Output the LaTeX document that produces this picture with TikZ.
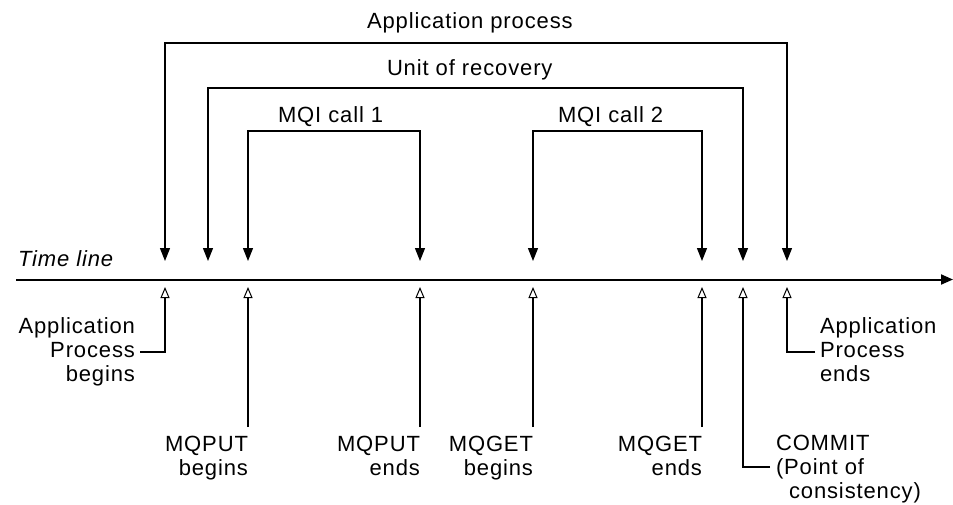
\documentclass[tikz,border=0pt]{standalone}
\usepackage{fontspec}
\setmainfont{Liberation Sans}[LetterSpace=4]
\usetikzlibrary{arrows.meta}
\begin{document}
\begin{tikzpicture}[x=1pt,y=-1pt,
  lbl/.style={font=\fontsize{22}{24}\selectfont, inner sep=0pt, outer sep=0pt},
  wire/.style={line width=1.2pt},
  callarr/.style={wire, {Triangle[width=10pt,length=13pt]}-{Triangle[width=10pt,length=13pt]}},
  markarr/.style={wire, -{Triangle[open,width=9pt,length=11pt,line width=1pt]}},
  timeaxis/.style={line width=2pt, -{Triangle[width=10pt,length=12pt]}}
]
\useasboundingbox (0,0) rectangle (953,504);

% time axis
\coordinate (tl0) at (16,279.5);
\coordinate (tl1) at (953,279.5);
\draw[timeaxis] (tl0) -- (tl1);
\node[lbl, font=\fontsize{22}{24}\selectfont\itshape, anchor=base west] (tlname) at (18,266) {Time line};

% bracket ends (tips above the axis)
\coordinate (apL) at (165,261);  \coordinate (apR) at (787,261);  \coordinate (apT) at (476,43);
\coordinate (urL) at (208,261);  \coordinate (urR) at (743,261);  \coordinate (urT) at (476,88);
\coordinate (m1L) at (248,261);  \coordinate (m1R) at (420,261);  \coordinate (m1T) at (334,131);
\coordinate (m2L) at (533,261);  \coordinate (m2R) at (702,261);  \coordinate (m2T) at (617,131);

\draw[callarr] (apL) |- (apT) -| (apR);
\draw[callarr] (urL) |- (urT) -| (urR);
\draw[callarr] (m1L) |- (m1T) -| (m1R);
\draw[callarr] (m2L) |- (m2T) -| (m2R);

\node[lbl, anchor=base west] (apname) at (367,28) {Application process};
\node[lbl, anchor=base west] (urname) at (387,75) {Unit of recovery};
\node[lbl, anchor=base west] (m1name) at (278,122) {MQI call 1};
\node[lbl, anchor=base west] (m2name) at (558,122) {MQI call 2};

% event marks (tips below the axis)
\coordinate (e1) at (165,287);
\coordinate (e2) at (248,287);
\coordinate (e3) at (420,287);
\coordinate (e4) at (533,287);
\coordinate (e5) at (702,287);
\coordinate (e6) at (743,287);
\coordinate (e7) at (787,287);

% event labels
\node[lbl, align=right, anchor=north east] (apbeg) at (135,318) {Application\\Process\\begins};
\node[lbl, align=left, anchor=north west] (apend) at (820,318) {Application\\Process\\ends};
\node[lbl, align=right, anchor=north east] (putb) at (248,436) {MQPUT\\begins};
\node[lbl, align=right, anchor=north east] (pute) at (420,436) {MQPUT\\ends};
\node[lbl, align=right, anchor=north east] (getb) at (533,436) {MQGET\\begins};
\node[lbl, align=right, anchor=north east] (gete) at (702,436) {MQGET\\ends};
\node[lbl, align=left, anchor=north west] (commit) at (776,435) {COMMIT\\(Point of\\\hspace{13pt}consistency)};

\coordinate (apbegHook) at (140,352);
\coordinate (apendHook) at (815,352);
\coordinate (commitHook) at (770,467);

\draw[markarr] (apbegHook) -| (e1);
\draw[markarr] ([yshift=9pt]putb.north east) -- (e2);
\draw[markarr] ([yshift=9pt]pute.north east) -- (e3);
\draw[markarr] ([yshift=9pt]getb.north east) -- (e4);
\draw[markarr] ([yshift=9pt]gete.north east) -- (e5);
\draw[markarr] (commitHook) -| (e6);
\draw[markarr] (apendHook) -| (e7);
\end{tikzpicture}
\end{document}
